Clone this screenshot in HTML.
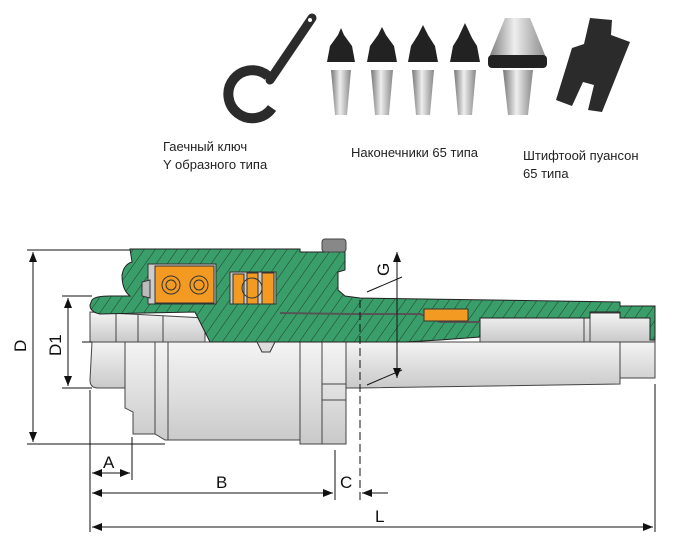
<!DOCTYPE html>
<html><head><meta charset="utf-8"><style>
body{margin:0;background:#fff;width:691px;height:554px;overflow:hidden;font-family:"Liberation Sans",sans-serif}
.t{position:absolute;font-size:13px;color:#222;line-height:18px}
</style></head><body>
<svg width="691" height="554" style="position:absolute;left:0;top:0" xmlns="http://www.w3.org/2000/svg">
<defs>
<pattern id="h" width="9" height="9" patternUnits="userSpaceOnUse" patternTransform="rotate(35)">
<rect width="9" height="9" fill="#3a9e6a"/><line x1="0" y1="0" x2="0" y2="9" stroke="#1d3d2a" stroke-width="1"/></pattern>
<linearGradient id="g" x1="0" y1="0" x2="0" y2="1"><stop offset="0" stop-color="#f4f4f4"/><stop offset="1" stop-color="#c9c9c9"/></linearGradient>
<linearGradient id="m" x1="0" y1="0" x2="1" y2="0"><stop offset="0" stop-color="#777"/><stop offset=".45" stop-color="#eee"/><stop offset="1" stop-color="#888"/></linearGradient>
<marker id="a" markerWidth="10" markerHeight="8" refX="10" refY="4" orient="auto-start-reverse" markerUnits="userSpaceOnUse"><path d="M0,0 L10,4 L0,8z" fill="#111"/></marker>
</defs>
<!-- wrench -->
<line x1="312" y1="18" x2="270" y2="80" stroke="#2b2b2b" stroke-width="9" stroke-linecap="round"/>
<path d="M272,108 A24,24 0 1 1 268,76" fill="none" stroke="#2b2b2b" stroke-width="10"/>
<circle cx="310" cy="20" r="2" fill="#fff"/>
<!-- tips -->
<g>
<path d="M327,62 L330,46 L338,35 L341,28 L344,35 L352,46 L355,62 Z" fill="#222"/>
<path d="M331,70 L351,70 L347,115 L335,115 Z" fill="url(#m)"/>
<path d="M367,62 L370,46 L378,35 L382,27 L386,35 L394,46 L397,62 Z" fill="#222"/><path d="M371,70 L393,70 L389,115 L375,115 Z" fill="url(#m)"/>
<path d="M408,62 L411,46 L418,35 L423,25 L428,35 L435,46 L438,62 Z" fill="#222"/><path d="M412,70 L434,70 L430,115 L416,115 Z" fill="url(#m)"/>
<path d="M450,62 L453,46 L458,38 L465,23 L472,38 L477,46 L480,62 Z" fill="#222"/><path d="M454,70 L476,70 L472,115 L458,115 Z" fill="url(#m)"/>
<path d="M488,60 L505,18 L530,18 L547,60 Z" fill="url(#m)"/><rect x="488" y="55" width="59" height="13" rx="4" fill="#222"/>
<path d="M503,70 L533,70 L528,115 L508,115 Z" fill="url(#m)"/>
<path d="M590,18 L612,20 L611,35 L630,42 L602,112 L588,110 L594,85 L583,82 L572,106 L556,100 L572,48 L584,44 Z" fill="#2b2b2b"/>
</g>
<!-- lower gray body -->
<path d="M92,342 L125,342 L125,388 L98,388 Q90,388 90,380 Z" fill="url(#g)" stroke="#444"/>
<path d="M125,342 L335,342 L335,432 L322,432 L322,444 L300,444 L300,440 L165,440 L155,434 L133,434 L133,412 L125,408 Z" fill="url(#g)" stroke="#444"/>
<rect x="322" y="342" width="24" height="102" fill="url(#g)" stroke="#444"/>
<path d="M346,342 L620,342 L620,378 L655,378 L655,342 L620,342 L620,384 L360,388 L346,388 Z" fill="url(#g)" stroke="#444"/>
<line x1="155" y1="342" x2="155" y2="434" stroke="#444"/><line x1="168" y1="342" x2="168" y2="440" stroke="#444"/><line x1="300" y1="342" x2="300" y2="440" stroke="#444"/>
<line x1="322" y1="384" x2="346" y2="384" stroke="#444"/><line x1="322" y1="400" x2="346" y2="400" stroke="#444"/>
<!-- upper gray inside spindle -->
<path d="M90,312 L205,318 L205,342 L90,342 Z" fill="url(#g)" stroke="#444"/>
<path d="M480,313 L655,313 L655,342 L480,342 Z" fill="url(#g)" stroke="#444"/>
<line x1="116" y1="314" x2="116" y2="342" stroke="#444"/><line x1="138" y1="315" x2="138" y2="342" stroke="#444"/><line x1="163" y1="316" x2="163" y2="342" stroke="#444"/>
<line x1="584" y1="313" x2="584" y2="342" stroke="#444"/><line x1="590" y1="313" x2="590" y2="342" stroke="#444"/>
<!-- green housing -->
<path d="M130,249 L300,249 L300,252 L345,252 L345,270 L338,272 L338,290 L345,296 L360,298 L620,302 L620,306 L655,306 L655,340 L650,340 L650,318 L620,318 L620,312 L590,312 L590,318 L480,318 L480,337 L440,340 L405,342 L210,342 L195,312 L100,314 Q90,312 90,305 L92,300 Q95,296 110,296 L130,296 Q122,290 122,275 Q124,264 132,262 Z" fill="url(#h)" stroke="#222"/>
<rect x="322" y="239" width="24" height="13" rx="3" fill="#888" stroke="#444"/>
<path d="M280,313 L350,314 L420,314 L440,322 L480,322" fill="none" stroke="#555" stroke-width="2"/>
<!-- bearings -->
<rect x="148" y="264" width="68" height="40" fill="#ccc" stroke="#333"/>
<rect x="155" y="266" width="59" height="37" fill="#f39a23" stroke="#333"/>
<circle cx="171" cy="285" r="9" fill="none" stroke="#333"/><circle cx="171" cy="285" r="5" fill="none" stroke="#333"/>
<circle cx="199" cy="285" r="9" fill="none" stroke="#333"/><circle cx="199" cy="285" r="5" fill="none" stroke="#333"/>
<rect x="230" y="272" width="46" height="32" fill="#ccc" stroke="#333"/>
<rect x="233" y="274" width="11" height="30" fill="#f39a23" stroke="#333"/><rect x="247" y="273" width="11" height="31" fill="#f39a23" stroke="#333"/><rect x="262" y="273" width="12" height="31" fill="#f39a23" stroke="#333"/>
<circle cx="252" cy="288" r="10" fill="none" stroke="#333"/>
<path d="M142,282 L150,280 L150,298 L142,296 Z" fill="#bbb" stroke="#333"/>
<rect x="424" y="309" width="44" height="12" fill="#f39a23" stroke="#333"/>
<path d="M257,342 L275,342 L270,352 L262,352 Z" fill="#ddd" stroke="#333"/>
<!-- dimension lines -->
<g stroke="#111" stroke-width="1" fill="none">
<line x1="27" y1="250" x2="130" y2="250"/><line x1="27" y1="444" x2="165" y2="444"/>
<line x1="33" y1="252" x2="33" y2="442" marker-start="url(#a)" marker-end="url(#a)"/>
<line x1="62" y1="296" x2="92" y2="296"/><line x1="62" y1="388" x2="92" y2="388"/>
<line x1="68" y1="298" x2="68" y2="386" marker-start="url(#a)" marker-end="url(#a)"/>
<line x1="82" y1="342" x2="92" y2="342"/>
<line x1="90" y1="390" x2="90" y2="532"/><line x1="132" y1="437" x2="132" y2="480"/>
<line x1="92" y1="473" x2="130" y2="473" marker-start="url(#a)" marker-end="url(#a)"/>
<line x1="92" y1="493" x2="333" y2="493" marker-start="url(#a)" marker-end="url(#a)"/>
<line x1="335" y1="450" x2="335" y2="500"/>
<line x1="360" y1="300" x2="360" y2="500" stroke-dasharray="8,4"/>
<line x1="362" y1="493" x2="388" y2="493" marker-start="url(#a)"/>
<line x1="92" y1="527" x2="653" y2="527" marker-start="url(#a)" marker-end="url(#a)"/>
<line x1="655" y1="384" x2="655" y2="532"/>
<line x1="397" y1="252" x2="397" y2="378" marker-start="url(#a)" marker-end="url(#a)"/>
<line x1="367" y1="292" x2="402" y2="277"/><line x1="367" y1="385" x2="402" y2="370"/>
</g>
<g font-family="Liberation Sans,sans-serif" font-size="17" fill="#111">
<text x="103" y="468">A</text><text x="216" y="488">B</text><text x="340" y="488">C</text><text x="375" y="522">L</text>
<text transform="translate(26,352) rotate(-90)">D</text><text transform="translate(61,356) rotate(-90)">D1</text>
<text transform="translate(389,276) rotate(-90)">G</text>
</g>
</svg>
<div class="t" style="left:163px;top:138px">Гаечный ключ<br>Y образного типа</div>
<div class="t" style="left:351px;top:144px">Наконечники 65 типа</div>
<div class="t" style="left:523px;top:147px">Штифтоой пуансон<br>65 типа</div>
</body></html>
